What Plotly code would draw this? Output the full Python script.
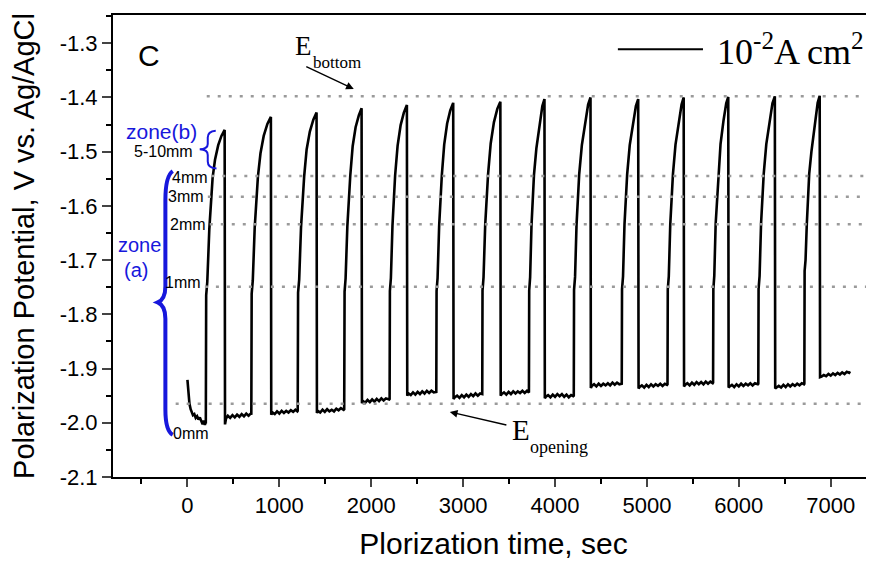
import plotly.graph_objects as go

# polarization curve (time in s, potential in V vs Ag/AgCl)
t_sec = [
    0, 10, 22, 35, 48, 60, 75, 90, 105, 120, 135, 150, 165, 178, 190, 198,
    200, 204, 212, 216, 238, 242, 256, 274, 300, 335, 370, 405, 409,
    420, 440, 465, 490, 515, 540, 565, 590, 615, 640, 665, 690,
    695, 699, 707, 711, 732, 736, 750, 767, 795, 830, 870, 908, 912,
    925, 950, 975, 1000, 1025, 1050, 1075, 1100, 1125, 1150, 1175, 1196,
    1200, 1204, 1212, 1216, 1236, 1240, 1253, 1270, 1297, 1332, 1370, 1405, 1409,
    1420, 1445, 1470, 1495, 1520, 1545, 1570, 1595, 1620, 1645, 1670, 1700,
    1706, 1710, 1717, 1721, 1740, 1744, 1756, 1772, 1798, 1830, 1865, 1895, 1899,
    1910, 1935, 1960, 1985, 2010, 2035, 2060, 2085, 2110, 2135, 2160, 2195,
    2200, 2203, 2210, 2214, 2231, 2235, 2246, 2260, 2287, 2320, 2355, 2388, 2392,
    2405, 2430, 2455, 2480, 2505, 2530, 2555, 2580, 2605, 2630, 2655, 2680, 2703,
    2708, 2711, 2718, 2722, 2739, 2743, 2754, 2768, 2794, 2826, 2860, 2892, 2896,
    2910, 2935, 2960, 2985, 3010, 3035, 3060, 3085, 3110, 3135, 3160, 3185, 3204,
    3208, 3211, 3218, 3222, 3240, 3244, 3256, 3271, 3300, 3335, 3372, 3405, 3409,
    3420, 3445, 3470, 3495, 3520, 3545, 3570, 3595, 3620, 3645, 3670, 3695, 3712,
    3716, 3719, 3725, 3729, 3744, 3748, 3758, 3771, 3797, 3833, 3862, 3885, 3889,
    3900, 3925, 3950, 3975, 4000, 4025, 4050, 4075, 4100, 4125, 4150, 4175, 4198,
    4204, 4207, 4214, 4218, 4234, 4238, 4249, 4263, 4292, 4328, 4360, 4386, 4390,
    4400, 4425, 4450, 4475, 4500, 4525, 4550, 4575, 4600, 4625, 4650, 4675, 4700, 4721,
    4726, 4729, 4736, 4740, 4756, 4760, 4771, 4785, 4813, 4848, 4880, 4905, 4909,
    4920, 4945, 4970, 4995, 5020, 5045, 5070, 5095, 5120, 5145, 5170, 5195, 5219,
    5224, 5227, 5234, 5238, 5254, 5258, 5269, 5283, 5311, 5346, 5377, 5400, 5404,
    5415, 5440, 5465, 5490, 5515, 5540, 5565, 5590, 5615, 5640, 5665, 5690, 5716,
    5720, 5723, 5729, 5733, 5748, 5752, 5762, 5775, 5801, 5834, 5863, 5885, 5889,
    5900, 5925, 5950, 5975, 6000, 6025, 6050, 6075, 6100, 6125, 6150, 6175, 6207,
    6212, 6215, 6222, 6226, 6242, 6246, 6257, 6271, 6299, 6334, 6366, 6392, 6396,
    6410, 6435, 6460, 6485, 6510, 6535, 6560, 6585, 6610, 6635, 6660, 6685, 6709,
    6713, 6716, 6722, 6726, 6740, 6744, 6754, 6766, 6790, 6829, 6858, 6880, 6884,
    6900, 6925, 6950, 6975, 7000, 7025, 7050, 7075, 7100, 7125, 7150, 7175, 7200, 7210,
]
e_volt = [
    -1.921, -1.945, -1.965, -1.975, -1.982, -1.986, -1.984, -1.991, -1.988, -1.994, -1.990, -1.997, -2.003, -1.996, -2.004, -1.999,
    -1.999, -1.765, -1.752, -1.740, -1.643, -1.630, -1.586, -1.548, -1.515, -1.488, -1.471, -1.460, -2.003,
    -1.992, -1.987, -1.991, -1.986, -1.990, -1.985, -1.989, -1.984, -1.988, -1.983, -1.987, -1.983,
    -1.985, -1.762, -1.750, -1.738, -1.640, -1.628, -1.584, -1.546, -1.503, -1.471, -1.449, -1.436, -1.985,
    -1.981, -1.984, -1.979, -1.983, -1.978, -1.982, -1.978, -1.981, -1.977, -1.980, -1.976, -1.979,
    -1.978, -1.760, -1.748, -1.736, -1.640, -1.628, -1.584, -1.546, -1.496, -1.463, -1.441, -1.428, -1.982,
    -1.978, -1.981, -1.976, -1.980, -1.975, -1.979, -1.976, -1.979, -1.974, -1.977, -1.973, -1.976,
    -1.975, -1.758, -1.746, -1.734, -1.638, -1.626, -1.582, -1.544, -1.490, -1.455, -1.433, -1.420, -1.964,
    -1.960, -1.963, -1.958, -1.962, -1.957, -1.961, -1.956, -1.960, -1.955, -1.959, -1.955, -1.957,
    -1.956, -1.757, -1.745, -1.733, -1.637, -1.625, -1.582, -1.544, -1.489, -1.451, -1.428, -1.414, -1.950,
    -1.946, -1.949, -1.944, -1.948, -1.943, -1.947, -1.942, -1.946, -1.941, -1.945, -1.941, -1.944, -1.942,
    -1.943, -1.757, -1.745, -1.733, -1.637, -1.625, -1.582, -1.544, -1.487, -1.448, -1.424, -1.410, -1.956,
    -1.953, -1.950, -1.954, -1.949, -1.953, -1.948, -1.952, -1.947, -1.951, -1.946, -1.950, -1.946, -1.948,
    -1.947, -1.756, -1.744, -1.732, -1.636, -1.624, -1.581, -1.543, -1.485, -1.446, -1.421, -1.408, -1.950,
    -1.947, -1.944, -1.948, -1.943, -1.947, -1.942, -1.946, -1.942, -1.945, -1.941, -1.945, -1.941, -1.943,
    -1.944, -1.756, -1.744, -1.732, -1.636, -1.624, -1.581, -1.543, -1.494, -1.446, -1.416, -1.403, -1.955,
    -1.952, -1.949, -1.953, -1.948, -1.952, -1.947, -1.951, -1.947, -1.952, -1.948, -1.953, -1.949, -1.951,
    -1.950, -1.755, -1.743, -1.731, -1.635, -1.623, -1.580, -1.542, -1.488, -1.444, -1.413, -1.400, -1.936,
    -1.932, -1.929, -1.933, -1.928, -1.932, -1.928, -1.931, -1.927, -1.931, -1.926, -1.930, -1.926, -1.929, -1.927,
    -1.928, -1.754, -1.742, -1.730, -1.634, -1.622, -1.580, -1.542, -1.488, -1.446, -1.416, -1.403, -1.937,
    -1.934, -1.931, -1.935, -1.930, -1.934, -1.929, -1.933, -1.929, -1.932, -1.928, -1.932, -1.928, -1.930,
    -1.929, -1.754, -1.742, -1.730, -1.634, -1.622, -1.580, -1.542, -1.487, -1.444, -1.413, -1.400, -1.933,
    -1.930, -1.927, -1.931, -1.926, -1.930, -1.925, -1.929, -1.925, -1.929, -1.924, -1.928, -1.924, -1.927,
    -1.926, -1.753, -1.741, -1.729, -1.633, -1.621, -1.579, -1.541, -1.486, -1.442, -1.411, -1.399, -1.935,
    -1.933, -1.930, -1.934, -1.929, -1.933, -1.928, -1.932, -1.928, -1.931, -1.927, -1.931, -1.927, -1.929,
    -1.928, -1.753, -1.741, -1.729, -1.633, -1.621, -1.579, -1.541, -1.486, -1.442, -1.411, -1.398, -1.937,
    -1.935, -1.932, -1.935, -1.930, -1.934, -1.929, -1.933, -1.929, -1.932, -1.928, -1.931, -1.927, -1.929,
    -1.928, -1.720, -1.712, -1.700, -1.633, -1.621, -1.579, -1.541, -1.500, -1.445, -1.410, -1.397, -1.916,
    -1.915, -1.912, -1.914, -1.910, -1.913, -1.909, -1.912, -1.908, -1.911, -1.907, -1.910, -1.906, -1.908, -1.905,
]

# reference potential levels (dotted lines)
level_names = ["E_bottom", "4mm", "3mm", "2mm", "1mm", "E_opening"]
level_values = [-1.398, -1.545, -1.583, -1.634, -1.749, -1.965]
level_starts = [210, 260, 222, 243, 190, -128]

# depth labels next to the first rise
depth_labels = ["4mm", "3mm", "2mm", "1mm", "0mm"]
depth_values = [-1.548, -1.582, -1.634, -1.741, -2.019]
depth_right = [243, 207, 221, 170, 261]

x_ticks = [0, 1000, 2000, 3000, 4000, 5000, 6000, 7000]
y_ticks = [-1.3, -1.4, -1.5, -1.6, -1.7, -1.8, -1.9, -2.0, -2.1]
y_ticktext = ["-1.3", "-1.4", "-1.5", "-1.6", "-1.7", "-1.8", "-1.9", "-2.0", "-2.1"]

X_RANGE = [-810, 7471]
Y_RANGE = [-2.1, -1.248]
SANS = "Liberation Sans, Arial, sans-serif"
SERIF = "Liberation Serif, Times New Roman, serif"
BLUE = "#1717dc"

fig = go.Figure()

fig.add_trace(go.Scatter(x=t_sec, y=e_volt, mode="lines",
                         line=dict(color="black", width=2.6), showlegend=False))

for name, val, x0 in zip(level_names, level_values, level_starts):
    fig.add_trace(go.Scatter(x=[x0, X_RANGE[1]], y=[val, val], mode="lines", name=name,
                             line=dict(color="#9a9a9a", width=2.5, dash="3px,8px"),
                             showlegend=False, hoverinfo="skip"))

ann = []
for lab, val, xr in zip(depth_labels, depth_values, depth_right):
    ann.append(dict(x=xr, y=val, text=lab, showarrow=False, xanchor="right", yanchor="middle",
                    font=dict(family=SANS, size=16, color="black")))

ann += [
    dict(x=-421, y=-1.3218, text="C", showarrow=False, font=dict(family=SANS, size=30, color="black")),
    dict(x=-280, y=-1.463, text="zone(b)", showarrow=False, font=dict(family=SANS, size=21, color=BLUE)),
    dict(x=-261, y=-1.499, text="5-10mm", showarrow=False, font=dict(family=SANS, size=16, color="black")),
    dict(x=-519, y=-1.6725, text="zone", showarrow=False, font=dict(family=SANS, size=20, color=BLUE)),
    dict(x=-557, y=-1.7185, text="(a)", showarrow=False, font=dict(family=SANS, size=20, color=BLUE)),
    # E_bottom label + arrow
    dict(x=1150, y=-1.306, text="E", showarrow=False, xanchor="left", font=dict(family=SERIF, size=27, color="black")),
    dict(x=1342, y=-1.3365, text="bottom", showarrow=False, xanchor="left", font=dict(family=SERIF, size=17, color="black")),
    dict(x=1810, y=-1.3845, ax=1277, ay=-1.342, axref="x", ayref="y", text="", showarrow=True,
         arrowhead=2, arrowsize=1.1, arrowwidth=1.4, arrowcolor="black"),
    # E_opening label + arrow
    dict(x=3509, y=-2.0138, text="E", showarrow=False, xanchor="left", font=dict(family=SERIF, size=29, color="black")),
    dict(x=3705, y=-2.0452, text="opening", showarrow=False, xanchor="left", font=dict(family=SERIF, size=18, color="black")),
    dict(x=2855, y=-1.980, ax=3487, ay=-2.0047, axref="x", ayref="y", text="", showarrow=True,
         arrowhead=2, arrowsize=1.1, arrowwidth=1.4, arrowcolor="black"),
    # legend text
    dict(x=5740, y=-1.312, text="10<sup>-2</sup>A cm<sup>2</sup>", showarrow=False, xanchor="left",
         font=dict(family=SERIF, size=36, color="black")),
]

shapes = [
    # legend line sample
    dict(type="line", x0=4684, x1=5610, y0=-1.3111, y1=-1.3111, line=dict(color="black", width=2)),
    # zone(b) brace
    dict(type="path", line=dict(color=BLUE, width=2),
         path="M 308,-1.4615 Q 221,-1.4625 221,-1.474 L 221,-1.486 Q 221,-1.4950 134,-1.4958 "
              "Q 221,-1.4966 221,-1.506 L 221,-1.518 Q 221,-1.530 316,-1.531"),
    # zone(a) brace
    dict(type="path", line=dict(color=BLUE, width=4),
         path="M -160,-1.536 Q -240,-1.545 -240,-1.590 L -240,-1.748 Q -240,-1.772 -323,-1.778 "
              "Q -240,-1.784 -240,-1.808 L -240,-1.975 Q -240,-2.015 -160,-2.022"),
]

# the page adds an 8px body margin, so the figure is 8px smaller and shifted
fig.update_layout(
    width=866, height=553,
    margin=dict(l=105, r=0, t=7, b=84),
    paper_bgcolor="white", plot_bgcolor="white",
    annotations=ann, shapes=shapes,
    xaxis=dict(range=X_RANGE, tickvals=x_ticks, ticks="outside", ticklen=8, tickwidth=2,
               showline=True, linecolor="black", linewidth=2, mirror=True, showgrid=False, zeroline=False,
               automargin=False,
               tickfont=dict(family=SANS, size=22, color="black"),
               minor=dict(tickvals=[-500, 500, 1500, 2500, 3500, 4500, 5500, 6500],
                          ticks="outside", ticklen=5, tickwidth=2, tickcolor="black"),
               title=dict(text="Plorization time, sec", font=dict(family=SANS, size=30, color="black"),
                          standoff=16)),
    yaxis=dict(range=Y_RANGE, tickvals=y_ticks, ticktext=y_ticktext, ticks="outside", ticklen=9, tickwidth=2,
               showline=True, linecolor="black", linewidth=2, showgrid=False, zeroline=False,
               automargin=False,
               tickfont=dict(family=SANS, size=22, color="black"),
               minor=dict(dtick=0.05, ticks="outside", ticklen=5, tickwidth=2, tickcolor="black"),
               title=dict(text="Polarization Potential, V vs. Ag/AgCl",
                          font=dict(family=SANS, size=29, color="black"), standoff=23)),
)

fig.write_html("out.html")
